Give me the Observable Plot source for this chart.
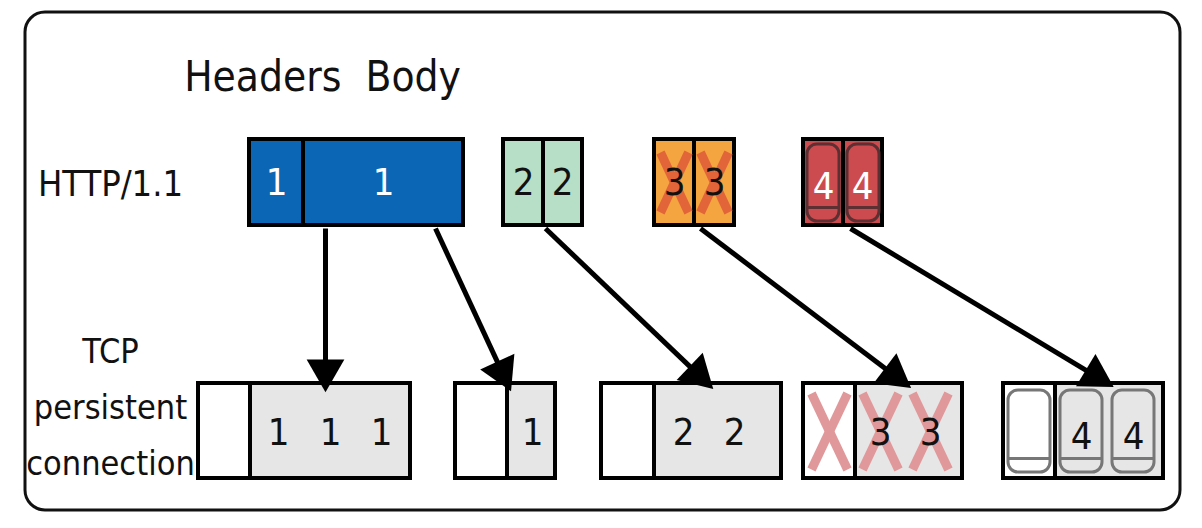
<!DOCTYPE html>
<html><head><meta charset="utf-8">
<script src="https://cdn.jsdelivr.net/npm/d3@7"></script>
<script src="https://cdn.jsdelivr.net/npm/@observablehq/plot@0.6"></script>
<style>body{margin:0;background:#fff} svg text{font-stretch:condensed}</style>
</head><body><div id="chart"></div>
<script>
// diagram cells: [x1, x2, y1, y2, fill]
const topCells = [
  [249,303,139,225,"#0b67b5"],[303,463,139,225,"#0b67b5"],
  [503,543,139,225,"#b7dec7"],[543,582,139,225,"#b7dec7"],
  [654,694,139,225,"#f4a53f"],[694,734,139,225,"#f4a53f"],
  [803,843,139,225,"#cc4b4f"],[843,882,139,225,"#cc4b4f"]
];
const bottomCells = [
  [198,250,383,478,"#ffffff"],[250,410,383,478,"#e6e6e6"],
  [455,507,383,478,"#ffffff"],[507,555,383,478,"#e6e6e6"],
  [601,654,383,478,"#ffffff"],[654,781,383,478,"#e6e6e6"],
  [803,855,383,478,"#ffffff"],[855,962,383,478,"#e6e6e6"],
  [1003,1055,383,478,"#ffffff"],[1055,1163,383,478,"#e6e6e6"]
];
// numbers: [x, y, text, colour]
const numbers = [
  [276,182,"1","#fff"],[383,182,"1","#fff"],
  [523,182,"2","#111"],[562,182,"2","#111"],
  [674,182,"3","#111"],[714,182,"3","#111"],
  [823,186,"4","#fff"],[862,186,"4","#fff"],
  [278,432,"1","#111"],[330,432,"1","#111"],[381,432,"1","#111"],
  [532,432,"1","#111"],
  [683,432,"2","#111"],[734,432,"2","#111"],
  [880,432,"3","#111"],[930,432,"3","#111"],
  [1081,436,"4","#111"],[1133,436,"4","#111"]
];
// crosses: [cx, cy, halfWidth, halfHeight, colour]
const crosses = [
  [674,182,14,30,"#e2653a"],[714,182,14,30,"#e2653a"],
  [829,431,18,38,"#e0989a"],[880,431,18,38,"#e0989a"],[930,431,18,38,"#e0989a"]
];
// cylinders: [x1, x2, y1, y2, fill, stroke]
const cylinders = [
  [807,839,144,221,"#cc4b4f","#5c3032"],[847,879,144,221,"#cc4b4f","#5c3032"],
  [1008,1050,390,472,"#ffffff","#777"],[1060,1102,390,472,"#e6e6e6","#777"],
  [1112,1154,390,472,"#e6e6e6","#777"]
];
// arrows: [x1, y1, x2, y2]
const arrows = [
  [325,228,325,381],[435,228,506,381],[545,228,705,381],
  [700,228,902,381],[850,228,1104,381]
];
// labels: [x, y, text, size]
const labels = [
  [322,77,"Headers  Body",42],[110,184,"HTTP/1.1",36],
  [110,352,"TCP",34],[110,408,"persistent",34],[110,464,"connection",34]
];

const rectOf = a => ({x1:a[0],x2:a[1],y1:a[2],y2:a[3],fill:a[4],stroke:a[5]});
const font = "'DejaVu Sans',sans-serif";
const crossLinks = crosses.flatMap(c => [
  {x1:c[0]-c[2],y1:c[1]-c[3],x2:c[0]+c[2],y2:c[1]+c[3],c:c[4]},
  {x1:c[0]+c[2],y1:c[1]-c[3],x2:c[0]-c[2],y2:c[1]+c[3],c:c[4]}
]);
const cyl = cylinders.map(rectOf);
const arr = arrows.map(([x1,y1,x2,y2]) => {
  const L = Math.hypot(x2-x1,y2-y1), ux = (x2-x1)/L, uy = (y2-y1)/L;
  return {x1,y1,x2:x2-ux*20,y2:y2-uy*20,hx:x2-ux*11,hy:y2-uy*11,rot:Math.atan2(x2-x1,-(y2-y1))*180/Math.PI};
});

const chart = Plot.plot({
  width:1202, height:528, margin:0,
  x:{domain:[0,1202], axis:null},
  y:{domain:[528,0], axis:null},
  r:{type:"identity"},
  marks:[
    Plot.rect([[25,1180,12,510]].map(rectOf),{x1:"x1",x2:"x2",y1:"y1",y2:"y2",fill:"none",stroke:"#111",strokeWidth:3,rx:20}),
    Plot.rect(topCells.map(rectOf),{x1:"x1",x2:"x2",y1:"y1",y2:"y2",fill:"fill",stroke:"#000",strokeWidth:4}),
    Plot.rect(bottomCells.map(rectOf),{x1:"x1",x2:"x2",y1:"y1",y2:"y2",fill:"fill",stroke:"#000",strokeWidth:4}),
    Plot.rect(cyl,{x1:"x1",x2:"x2",y1:"y1",y2:"y2",fill:"fill",stroke:"stroke",strokeWidth:3,rx:10}),
    Plot.link(cyl,{x1:"x1",x2:"x2",y1:d=>d.y2-14,y2:d=>d.y2-14,stroke:"stroke",strokeWidth:3}),
    Plot.link(crossLinks,{x1:"x1",y1:"y1",x2:"x2",y2:"y2",stroke:"c",strokeWidth:9}),
    Plot.text(numbers,{x:d=>d[0],y:d=>d[1],text:d=>d[2],fill:d=>d[3],fontSize:38,fontFamily:font}),
    Plot.link(arr,{x1:"x1",y1:"y1",x2:"x2",y2:"y2",stroke:"#000",strokeWidth:5}),
    Plot.dot(arr,{x:"hx",y:"hy",symbol:"triangle",r:14,rotate:"rot",fill:"#000",stroke:null}),
    Plot.text(labels,{x:d=>d[0],y:d=>d[1],text:d=>d[2],fontSize:d=>d[3],fill:"#111",fontFamily:font})
  ]
});
document.getElementById("chart").append(chart);
</script></body></html>
